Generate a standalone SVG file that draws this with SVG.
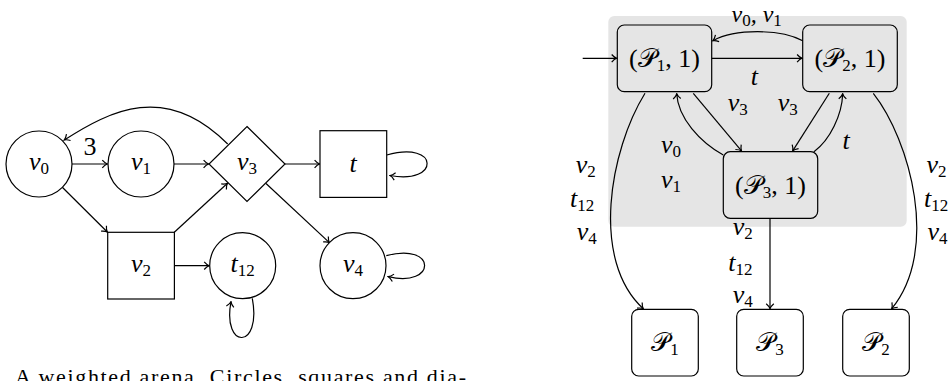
<svg xmlns="http://www.w3.org/2000/svg" width="950" height="381" viewBox="0 0 950 381">
<style>
.n{fill:#fff;stroke:#000;stroke-width:1.2}
.b{fill:none;stroke:#000;stroke-width:1.2}
.e{fill:none;stroke:#000;stroke-width:1.2;marker-end:url(#ah)}
.m{font-family:"Liberation Serif",serif;font-size:26px;font-style:italic;fill:#000}
.r{font-style:normal}
.s{font-size:17px;font-style:normal}
.c{font-family:"DejaVu Serif","DejaVu Sans","Noto Sans",serif;font-style:normal}
.cap{font-family:"Liberation Serif",serif;font-size:22px;fill:#000}
</style>
<defs>
<marker id="ah" viewBox="-6 -5 7 10" refX="0" refY="0" markerWidth="7" markerHeight="10" markerUnits="userSpaceOnUse" orient="auto">
<path d="M-5,-3.8 C-3,-1.5 -1,-0.3 0,0 C-1,0.3 -3,1.5 -5,3.8" fill="none" stroke="#000" stroke-width="1.2"/>
</marker>
</defs>
<rect x="0" y="0" width="950" height="381" fill="#fff"/>

<!-- left diagram -->
<g id="connectors-left">
<path class="e" d="M72,164 L107.3,164"/>
<text class="m r" x="90" y="155" text-anchor="middle">3</text>
<path class="e" d="M174,164 L208.6,164"/>
<path class="e" d="M285,164 L319.6,164"/>
<path class="e" d="M62.3,187.3 L107.3,232"/>
<path class="e" d="M174.3,232.3 L227.5,183.3"/>
<path class="e" d="M266,183.5 L329.4,242.6"/>
<path class="e" d="M174.3,265.7 L209.2,265.7"/>
<path class="e" d="M227.7,144 C165.6,81.9 110.4,110.6 64.3,140"/>
<path class="e" d="M386.7,155 C440,140 440,185 390,175.5"/>
<path class="e" d="M386.3,255.7 C437,242 437,288 388.3,276.7"/>
<path class="e" d="M252.3,298.3 C262,350 222,350 231,301.7"/>
</g>
<g id="v0"><circle class="n" cx="39" cy="164" r="33"/><text class="m" x="39" y="170" text-anchor="middle">v<tspan class="s" dy="4">0</tspan></text></g>
<g id="v1"><circle class="n" cx="141" cy="164" r="33"/><text class="m" x="141" y="170" text-anchor="middle">v<tspan class="s" dy="4">1</tspan></text></g>
<g id="v3"><polygon class="n" points="247,126.5 285,164 247,201.5 209,164"/><text class="m" x="247" y="170" text-anchor="middle">v<tspan class="s" dy="4">3</tspan></text></g>
<g id="t"><rect class="n" x="320" y="130.7" width="66.7" height="66.7"/><text class="m" x="353" y="172" text-anchor="middle">t</text></g>
<g id="v2"><rect class="n" x="107.7" y="232.3" width="66.7" height="66.7"/><text class="m" x="141" y="272" text-anchor="middle">v<tspan class="s" dy="4">2</tspan></text></g>
<g id="t12"><circle class="n" cx="242.7" cy="265.7" r="33"/><text class="m" x="242.7" y="272" text-anchor="middle">t<tspan class="s" dy="4">12</tspan></text></g>
<g id="v4"><circle class="n" cx="353" cy="265.7" r="33"/><text class="m" x="353" y="272" text-anchor="middle">v<tspan class="s" dy="4">4</tspan></text></g>
<text class="cap" x="15" y="384" textLength="451" lengthAdjust="spacing">A weighted arena. Circles, squares and dia-</text>

<!-- right diagram -->
<rect x="608.3" y="16" width="298.4" height="210.7" rx="6" fill="#e5e5e5"/>
<g id="connectors-right">
<path class="e" d="M582.7,58.3 L616.7,58.3"/>
<path class="e" d="M711.7,58.3 L802.1,58.3"/>
<path class="e" d="M802.7,40.7 C780,28.7 735,28.7 712.9,40.7"/>
<path class="e" d="M693.3,93.3 L741.5,150.9"/>
<path class="e" d="M723.3,155 C700,142 678,118 676.7,93.8"/>
<path class="e" d="M829.3,93.3 L792.7,150.9"/>
<path class="e" d="M814,151.7 C830,140 842,115 842.7,93.8"/>
<path class="e" d="M770,218.3 L770,308.7"/>
<path class="e" d="M645,93.3 C610,150 590,260 643.3,308.7"/>
<path class="e" d="M873.3,93.3 C910,140 940,250 891.7,308.7"/>
<text class="m" x="756.7" y="21.5" text-anchor="middle" style="font-size:24px">v<tspan class="s" dy="4">0</tspan><tspan dy="-4">, v</tspan><tspan class="s" dy="4">1</tspan></text>
<text class="m" x="754.3" y="85" text-anchor="middle">t</text>
<text class="m" x="737.7" y="111" text-anchor="middle">v<tspan class="s" dy="4">3</tspan></text>
<text class="m" x="787.7" y="111" text-anchor="middle">v<tspan class="s" dy="4">3</tspan></text>
<text class="m" x="671" y="153" text-anchor="middle">v<tspan class="s" dy="4">0</tspan></text>
<text class="m" x="671" y="188" text-anchor="middle">v<tspan class="s" dy="4">1</tspan></text>
<text class="m" x="846" y="149" text-anchor="middle">t</text>
<text class="m" x="575.7" y="173">v<tspan class="s" dy="4">2</tspan></text>
<text class="m" x="570" y="207">t<tspan class="s" dy="4">12</tspan></text>
<text class="m" x="576.7" y="240">v<tspan class="s" dy="4">4</tspan></text>
<text class="m" x="926.5" y="173">v<tspan class="s" dy="4">2</tspan></text>
<text class="m" x="924" y="207">t<tspan class="s" dy="4">12</tspan></text>
<text class="m" x="927.5" y="240">v<tspan class="s" dy="4">4</tspan></text>
<text class="m" x="732.7" y="235">v<tspan class="s" dy="4">2</tspan></text>
<text class="m" x="728.3" y="271">t<tspan class="s" dy="4">12</tspan></text>
<text class="m" x="732.7" y="303">v<tspan class="s" dy="4">4</tspan></text>
</g>
<g id="P1-1"><rect class="b" x="617.3" y="25" width="94.4" height="66.7" rx="7"/><text class="m" x="664.5" y="67" text-anchor="middle"><tspan class="r">(</tspan><tspan class="c">𝒫</tspan><tspan class="s" dy="4">1</tspan><tspan class="r" dy="-4">, 1)</tspan></text></g>
<g id="P2-1"><rect class="b" x="802.7" y="25" width="94.6" height="66.7" rx="7"/><text class="m" x="850" y="67" text-anchor="middle"><tspan class="r">(</tspan><tspan class="c">𝒫</tspan><tspan class="s" dy="4">2</tspan><tspan class="r" dy="-4">, 1)</tspan></text></g>
<g id="P3-1"><rect class="b" x="723.3" y="151.7" width="94.4" height="66.6" rx="7"/><text class="m" x="770.5" y="194" text-anchor="middle"><tspan class="r">(</tspan><tspan class="c">𝒫</tspan><tspan class="s" dy="4">3</tspan><tspan class="r" dy="-4">, 1)</tspan></text></g>
<g id="P1"><rect class="n" x="631.7" y="309.3" width="66.6" height="66.7" rx="7"/><text class="m" x="665" y="351" text-anchor="middle"><tspan class="c">𝒫</tspan><tspan class="s" dy="4">1</tspan></text></g>
<g id="P3"><rect class="n" x="736.7" y="309.3" width="66.6" height="66.7" rx="7"/><text class="m" x="770" y="351" text-anchor="middle"><tspan class="c">𝒫</tspan><tspan class="s" dy="4">3</tspan></text></g>
<g id="P2"><rect class="n" x="842.7" y="309.3" width="66.6" height="66.7" rx="7"/><text class="m" x="876" y="351" text-anchor="middle"><tspan class="c">𝒫</tspan><tspan class="s" dy="4">2</tspan></text></g>
</svg>
